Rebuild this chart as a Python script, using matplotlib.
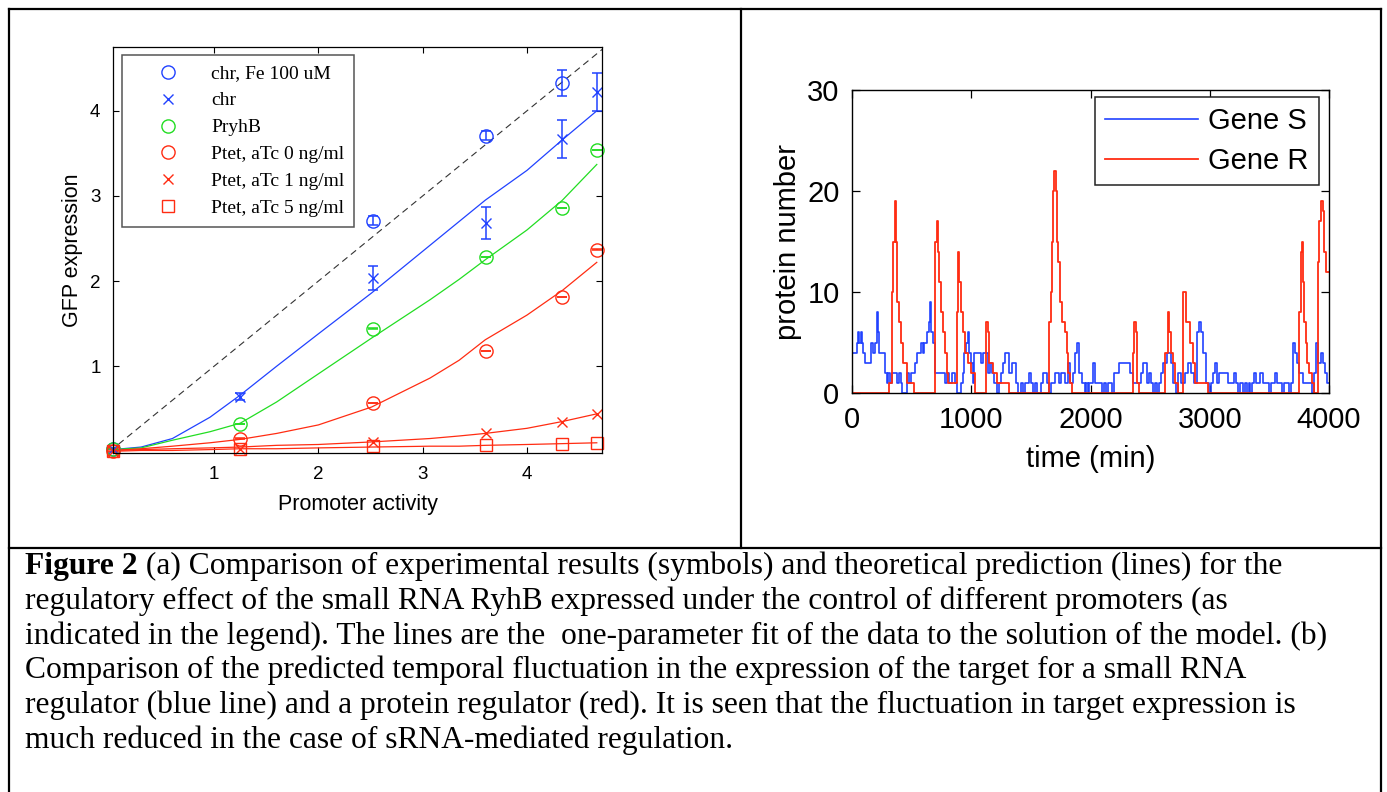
import matplotlib
matplotlib.use('Agg')
import matplotlib.pyplot as plt
from matplotlib.lines import Line2D

# ---- panel (a): GFP expression vs promoter activity ----
activity = [0.03, 1.25, 2.52, 3.61, 4.34, 4.67]

fe_x = [0.03, 2.52, 3.61, 4.34]
fe_y = [0.03, 2.71, 3.71, 4.33]
fe_err = [0.0, 0.05, 0.05, 0.15]

chr_y = [0.03, 0.64, 2.04, 2.68, 3.67, 4.22]
chr_err = [0.0, 0.04, 0.14, 0.19, 0.225, 0.22]

pryhb_y = [0.03, 0.32, 1.44, 2.28, 2.86, 3.54]
ptet0_y = [0.0, 0.15, 0.57, 1.18, 1.81, 2.37]
ptet1_y = [0.0, 0.03, 0.11, 0.21, 0.35, 0.44]
ptet5_y = [0.0, 0.03, 0.06, 0.07, 0.08, 0.10]
small_err = [0.003, 0.003, 0.003, 0.003, 0.003, 0.003]

# fitted model curves
fit_x = [0.03, 0.3, 0.6, 0.96, 1.25, 1.6, 2.0, 2.51, 3.07, 3.35, 3.6, 4.0, 4.34, 4.67]
fit_chr = [0.02, 0.05, 0.15, 0.40, 0.66, 1.00, 1.38, 1.86, 2.42, 2.70, 2.95, 3.30, 3.66, 4.00]
fit_pryhb = [0.02, 0.04, 0.13, 0.23, 0.33, 0.58, 0.91, 1.33, 1.78, 2.02, 2.25, 2.60, 2.95, 3.37]
fit_ptet0 = [0.01, 0.03, 0.06, 0.10, 0.14, 0.21, 0.31, 0.52, 0.86, 1.07, 1.31, 1.60, 1.89, 2.22]
fit_ptet1 = [0.01, 0.02, 0.03, 0.04, 0.05, 0.07, 0.08, 0.11, 0.15, 0.18, 0.21, 0.27, 0.35, 0.44]
fit_ptet5 = [0.0, 0.01, 0.01, 0.02, 0.03, 0.03, 0.04, 0.05, 0.06, 0.06, 0.07, 0.08, 0.09, 0.10]

# ---- panel (b): stochastic protein number traces ----
gene_s_t = [0, 39, 50, 61, 73, 84, 95, 109, 157, 173,
            190, 207, 218, 229, 274, 291, 302, 319, 335, 380,
            397, 408, 419, 464, 481, 498, 531, 548, 576, 593,
            604, 626, 643, 654, 665, 676, 693, 777, 794, 811,
            839, 866, 883, 911, 928, 939, 956, 973, 984, 995,
            1012, 1023, 1079, 1096, 1140, 1157, 1174, 1191, 1213, 1230,
            1247, 1269, 1286, 1319, 1342, 1375, 1392, 1414, 1431, 1448,
            1481, 1498, 1515, 1537, 1554, 1588, 1604, 1638, 1655, 1671,
            1705, 1733, 1755, 1789, 1811, 1828, 1850, 1873, 1889, 1906,
            1929, 1951, 1962, 1979, 1990, 2024, 2040, 2096, 2113, 2130,
            2147, 2180, 2197, 2242, 2331, 2353, 2420, 2437, 2471, 2488,
            2504, 2527, 2543, 2560, 2577, 2594, 2611, 2638, 2678, 2689,
            2717, 2734, 2761, 2789, 2817, 2845, 2868, 2890, 2907, 2929,
            2946, 2968, 2991, 3007, 3024, 3047, 3063, 3080, 3153, 3203,
            3220, 3237, 3253, 3281, 3298, 3315, 3326, 3337, 3354, 3371,
            3388, 3421, 3449, 3494, 3511, 3544, 3561, 3606, 3622, 3661,
            3678, 3701, 3717, 3734, 3751, 3779, 3857, 3874, 3891, 3908,
            3936, 3952, 3969, 3980, 4000]
gene_s_n = [4, 5, 6, 5, 6, 5, 4, 3, 5, 4,
            5, 8, 6, 4, 2, 1, 2, 1, 2, 1,
            2, 1, 0, 2, 1, 2, 3, 4, 5, 4,
            5, 6, 7, 9, 6, 5, 2, 1, 2, 1,
            2, 1, 0, 1, 2, 4, 5, 6, 4, 3,
            1, 4, 3, 4, 2, 3, 2, 1, 0, 1,
            2, 3, 4, 2, 3, 1, 0, 1, 0, 1,
            2, 1, 0, 1, 0, 1, 2, 1, 0, 1,
            2, 1, 2, 1, 3, 1, 2, 4, 5, 2,
            1, 0, 1, 0, 1, 3, 1, 0, 1, 0,
            1, 0, 2, 3, 2, 1, 2, 3, 1, 2,
            1, 0, 1, 0, 1, 2, 3, 4, 3, 1,
            0, 2, 1, 2, 3, 2, 1, 6, 7, 6,
            4, 1, 0, 1, 2, 3, 1, 2, 1, 2,
            1, 0, 1, 0, 1, 0, 1, 0, 1, 2,
            1, 2, 1, 0, 1, 2, 1, 0, 1, 0,
            1, 5, 4, 3, 2, 1, 0, 2, 5, 3,
            4, 3, 2, 1, 1]

gene_r_t = [0, 313, 333, 347, 358, 369, 377, 391, 408, 430, 464, 520,
            699, 710, 721, 732, 749, 766, 780, 794, 805,
            878, 886, 897, 911, 928, 948, 975, 1001, 1034,
            1124, 1138, 1152, 1185, 1213, 1319,
            1655, 1666, 1677, 1688, 1697, 1708, 1716, 1730, 1744, 1764, 1786, 1800, 1814, 1828, 1842,
            2353, 2367, 2379, 2387, 2404,
            2624, 2652, 2661, 2672, 2689, 2708, 2736,
            2778, 2798, 2834, 2857, 2876, 2988,
            3751, 3762, 3770, 3779, 3790, 3804, 3818, 3835, 3854, 3877,
            3905, 3919, 3933, 3947, 3958, 3972, 4000]
gene_r_n = [0, 1, 10, 15, 19, 15, 9, 7, 5, 3, 1, 0,
            15, 17, 14, 11, 8, 6, 4, 2, 1,
            8, 14, 11, 8, 6, 4, 3, 2, 0,
            7, 6, 3, 2, 1, 0,
            7, 10, 15, 20, 22, 20, 15, 13, 9, 7, 6, 4, 2, 1, 0,
            4, 7, 6, 1, 0,
            4, 8, 6, 4, 3, 1, 0,
            10, 7, 5, 3, 1, 0,
            8, 14, 15, 11, 7, 5, 3, 2, 1, 0,
            13, 17, 19, 18, 14, 12, 12]

caption_lines = [
    " (a) Comparison of experimental results (symbols) and theoretical prediction (lines) for the",
    "regulatory effect of the small RNA RyhB expressed under the control of different promoters (as",
    "indicated in the legend). The lines are the  one-parameter fit of the data to the solution of the model. (b)",
    "Comparison of the predicted temporal fluctuation in the expression of the target for a small RNA",
    "regulator (blue line) and a protein regulator (red). It is seen that the fluctuation in target expression is",
    "much reduced in the case of sRNA-mediated regulation.",
]

BLUE = '#2142ff'
GREEN = '#22dd22'
RED = '#ff2c12'
SANS = 'Liberation Sans'
SERIF = 'Liberation Serif'

W, H = 1387, 792
fig = plt.figure(figsize=(W / 100, H / 100), dpi=100)


def px_box(x0, y0, x1, y1):
    return [x0 / W, 1 - y1 / H, (x1 - x0) / W, (y1 - y0) / H]


# ---------- panel (a) ----------
ax1 = fig.add_axes(px_box(113, 47, 602, 453))
ax1.plot([0, 4.8], [0, 4.8], color='#333333', lw=0.8, dashes=(6, 4))

ax1.plot(fit_x, fit_chr, color=BLUE, lw=0.9)
ax1.plot(fit_x, fit_pryhb, color=GREEN, lw=0.9)
ax1.plot(fit_x, fit_ptet0, color=RED, lw=0.9)
ax1.plot(fit_x, fit_ptet1, color=RED, lw=0.9)
ax1.plot(fit_x, fit_ptet5, color=RED, lw=0.9)

eb = dict(fmt='none', capsize=3.5, elinewidth=1.1, capthick=1.1, clip_on=False)
ax1.errorbar(fe_x, fe_y, yerr=fe_err, ecolor=BLUE, **eb)
ax1.errorbar(activity, chr_y, yerr=chr_err, ecolor=BLUE, **eb)
ax1.errorbar(activity, pryhb_y, yerr=small_err, ecolor=GREEN, **eb)
ax1.errorbar(activity, ptet0_y, yerr=small_err, ecolor=RED, **eb)

mk = dict(linestyle='none', mfc='none', clip_on=False)
ax1.plot(fe_x, fe_y, marker='o', ms=9.5, mec=BLUE, mew=1.0, label='chr, Fe 100 uM', **mk)
ax1.plot(activity, chr_y, marker='x', ms=6.5, mec=BLUE, mew=1.0, label='chr', **mk)
ax1.plot(activity, pryhb_y, marker='o', ms=9.5, mec=GREEN, mew=1.0, label='PryhB', **mk)
ax1.plot(activity, ptet0_y, marker='o', ms=9.5, mec=RED, mew=1.0, label='Ptet, aTc 0 ng/ml', **mk)
ax1.plot(activity, ptet1_y, marker='x', ms=6.5, mec=RED, mew=1.0, label='Ptet, aTc 1 ng/ml', **mk)
ax1.plot(activity, ptet5_y, marker='s', ms=8, mec=RED, mew=1.0, label='Ptet, aTc 5 ng/ml', **mk)

ax1.set_xlim(0.03, 4.72)
ax1.set_ylim(-0.02, 4.75)
ax1.set_xticks([1, 2, 3, 4])
ax1.set_yticks([1, 2, 3, 4])
ax1.tick_params(direction='in', top=True, right=True, length=4, width=0.8,
                labelsize=13.5, pad=9)
for lab in ax1.get_xticklabels() + ax1.get_yticklabels():
    lab.set_fontfamily(SANS)
ax1.set_xlabel('Promoter activity', fontsize=15.5, family=SANS, labelpad=8)
ax1.set_ylabel('GFP expression', fontsize=15.5, family=SANS, labelpad=5)
for s in ax1.spines.values():
    s.set_linewidth(0.9)

leg1 = ax1.legend(loc='upper left', bbox_to_anchor=(0.018, 0.98), borderaxespad=0,
                  prop={'family': SERIF, 'size': 14}, handlelength=3.8,
                  handletextpad=0.3, labelspacing=0.48, borderpad=0.5,
                  fancybox=False, framealpha=1, edgecolor='#555555', numpoints=1)
leg1.get_frame().set_linewidth(1.1)

# ---------- panel (b) ----------
ax2 = fig.add_axes(px_box(852, 90, 1329, 393))
ax2.step(gene_s_t, gene_s_n, where='post', color=BLUE, lw=1.2, label='Gene S')
ax2.step(gene_r_t, gene_r_n, where='post', color=RED, lw=1.3, label='Gene R')
ax2.set_xlim(0, 4000)
ax2.set_ylim(0, 30)
ax2.set_xticks([0, 1000, 2000, 3000, 4000])
ax2.set_yticks([0, 10, 20, 30])
ax2.tick_params(direction='in', top=True, right=True, length=6, width=0.9,
                labelsize=21, pad=9)
for lab in ax2.get_xticklabels() + ax2.get_yticklabels():
    lab.set_fontfamily(SANS)
ax2.set_xlabel('time (min)', fontsize=21, family=SANS, labelpad=8)
ax2.set_ylabel('protein number', fontsize=21, family=SANS, labelpad=4)
for s in ax2.spines.values():
    s.set_linewidth(1.0)

leg2 = ax2.legend(loc='upper right', bbox_to_anchor=(0.979, 0.977), borderaxespad=0,
                  prop={'family': SANS, 'size': 21}, handlelength=3.2,
                  handletextpad=0.35, labelspacing=0.4, borderpad=0.35,
                  fancybox=False, framealpha=1, edgecolor='#222222')
leg2.get_frame().set_linewidth(1.1)

# ---------- document frame ----------
frame_kw = dict(color='black', lw=1.6, transform=fig.transFigure)
for (x0, y0, x1, y1) in [(9, 9, 1381, 9), (9, 9, 9, 792), (1381, 9, 1381, 792),
                         (741, 9, 741, 548), (9, 548, 1381, 548)]:
    fig.add_artist(Line2D([x0 / W, x1 / W], [1 - y0 / H, 1 - y1 / H], **frame_kw))

# ---------- caption ----------
baselines = [574, 609, 644, 678, 713, 748]
fs = 22.7
bold = fig.text(25 / W, 1 - baselines[0] / H, 'Figure 2', family=SERIF,
                weight='bold', fontsize=fs, va='baseline')
fig.canvas.draw()
renderer = fig.canvas.get_renderer()
bw = bold.get_window_extent(renderer).width
fig.text((25 + bw) / W, 1 - baselines[0] / H, caption_lines[0], family=SERIF,
         fontsize=fs, va='baseline')
for yb, line in zip(baselines[1:], caption_lines[1:]):
    fig.text(25 / W, 1 - yb / H, line, family=SERIF, fontsize=fs, va='baseline')

fig.savefig('out.png', dpi=100)
